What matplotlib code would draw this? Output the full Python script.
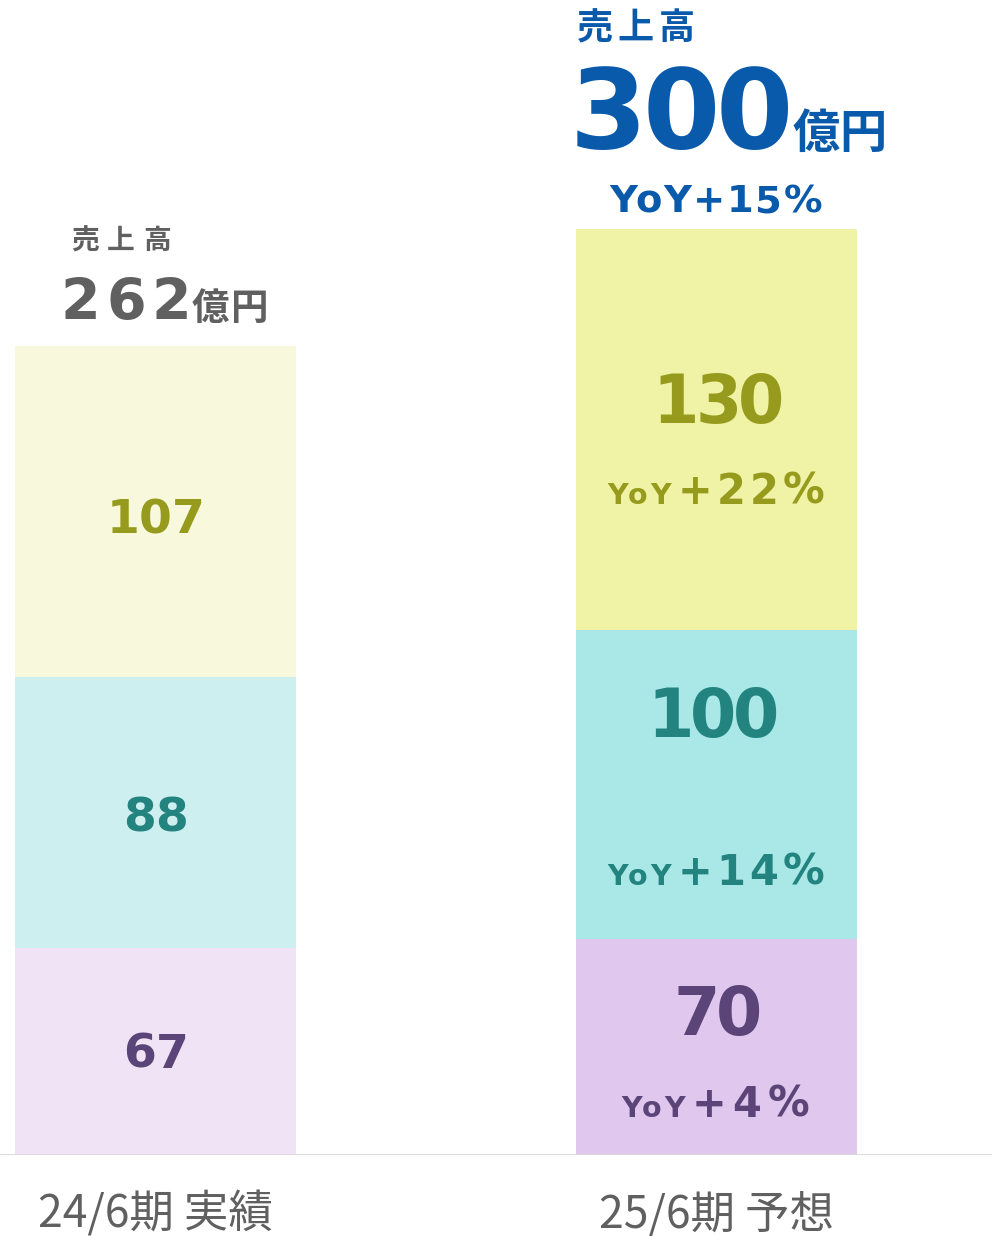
import matplotlib
matplotlib.use("Agg")
import matplotlib.pyplot as plt
import numpy as np

# ---- data ----
periods = ["24/6期 実績", "25/6期 予想"]
seg_bottom = [67, 70]     # purple segment
seg_middle = [88, 100]    # teal segment
seg_top = [107, 130]      # olive segment
totals = [262, 300]
total_yoy = [None, "YoY+15%"]
yoy_bottom = [None, "+4%"]
yoy_middle = [None, "+14%"]
yoy_top = [None, "+22%"]

# ---- styles ----
fill_bottom = ["#EFE3F5", "#DFC7EE"]
fill_middle = ["#CEEFF0", "#AAE8E8"]
fill_top = ["#F8F8DC", "#F0F2A5"]
c_purple = "#5B4478"
c_teal = "#22837F"
c_olive = "#979B1D"
c_blue = "#0A5AAB"
c_gray = "#606060"
FAM = ["DejaVu Sans", "Noto Sans CJK JP"]
FAM_CJK = ["Noto Sans CJK JP", "DejaVu Sans"]

fig = plt.figure(figsize=(9.92, 12.36), dpi=100)
ax = fig.add_axes([0, 81 / 1236, 1, 1155 / 1236])
x = np.arange(len(periods))
w = 0.501
ax.set_xlim(-0.2772, 1.4911)
ax.set_ylim(0, 374.2)
ax.axis("off")

b = np.array(seg_bottom)
m = np.array(seg_middle)
t = np.array(seg_top)
ax.bar(x, b, w, color=fill_bottom, linewidth=0)
ax.bar(x, m, w, bottom=b, color=fill_middle, linewidth=0)
ax.bar(x, t, w, bottom=b + m, color=fill_top, linewidth=0)
ax.axhline(0, color="#D9D9D9", linewidth=2.0, zorder=3)

renderer = fig.canvas.get_renderer()


def ink_w(s, size, fam, weight):
    tt = fig.text(0, 0, s, fontsize=size, family=fam, fontweight=weight)
    wd = tt.get_window_extent(renderer).width
    tt.remove()
    return wd


def run(xy, dx, dy, pieces, ha="left"):
    """pieces: list of (text, size, color, family, weight, tracking_px, gap_after_px)"""
    items = []
    cur = 0.0
    for k, (s, size, color, fam, weight, track, gap) in enumerate(pieces):
        for j, ch in enumerate(s):
            left = cur + ink_w(s[:j + 1], size, fam, weight) - ink_w(ch, size, fam, weight) + track * j
            items.append((ch, left, size, color, fam, weight))
        cur += ink_w(s, size, fam, weight) + track * (len(s) - 1)
        if k < len(pieces) - 1:
            cur += gap
    shift = {"left": 0.0, "center": -cur / 2, "right": -cur}[ha]
    for ch, left, size, color, fam, weight in items:
        ax.annotate(ch, xy=xy, xytext=(dx + shift + left, dy), textcoords="offset pixels",
                    ha="left", va="baseline", color=color, fontsize=size,
                    fontweight=weight, family=fam)


B = "bold"
# segment values
for i in range(len(periods)):
    mids = [b[i] / 2, b[i] + m[i] / 2, b[i] + m[i] + t[i] / 2]
    vals = [b[i], m[i], t[i]]
    cols = [c_purple, c_teal, c_olive]
    yoys = [yoy_bottom[i], yoy_middle[i], yoy_top[i]]
    if i == 0:
        offs = [-16, -19, -22]
        for mid, v, c, o in zip(mids, vals, cols, offs):
            run((x[i], mid), 0, o, [(str(v), 34, c, FAM, B, 0, 0)], ha="center")
    else:
        val_off = [12, 48, 7]
        val_dx = [1, -3, 2]
        yoy_off = [-70, -100, -74]
        yoy_dx = [-95, -109, -109]
        yoy_track = [6, 4, 4]
        for mid, v, c, vo, vdx, yo, ydx, yt, yy in zip(mids, vals, cols, val_off, val_dx,
                                                        yoy_off, yoy_dx, yoy_track, yoys):
            run((x[i], mid), vdx, vo, [(str(v), 48, c, FAM, B, -4, 0)], ha="center")
            run((x[i], mid), ydx, yo, [("YoY", 20.5, c, FAM, B, 2.5, 7),
                                       (yy, 30, c, FAM, B, yt, 0)])

# totals
# left (actual)
run((x[0], totals[0]), -95, 26, [(str(totals[0]), 41, c_gray, FAM, B, 6, 0),
                                  ("億円", 27, c_gray, FAM_CJK, B, 2, 0)])
run((x[0], totals[0]), -84, 97, [("売上高", 20, c_gray, FAM_CJK, B, 8, 0)])
# right (forecast)
run((x[1], totals[1]), -147, 81, [(str(totals[1]), 80, c_blue, FAM, B, -4, -1),
                                   ("億円", 34, c_blue, FAM_CJK, B, 0, 0)])
run((x[1], totals[1]), -140, 190, [("売上高", 26, c_blue, FAM_CJK, B, 5, 0)])
run((x[1], totals[1]), -107, 17, [(total_yoy[1], 27.7, c_blue, FAM, B, 1.5, 0)])

# category labels
for i, p in enumerate(periods):
    ax.annotate(p, xy=(x[i], 0), xytext=(0, -73), textcoords="offset pixels",
                ha="center", va="baseline", color=c_gray, fontsize=32, family=FAM_CJK)

fig.savefig("out.png", dpi=100)
